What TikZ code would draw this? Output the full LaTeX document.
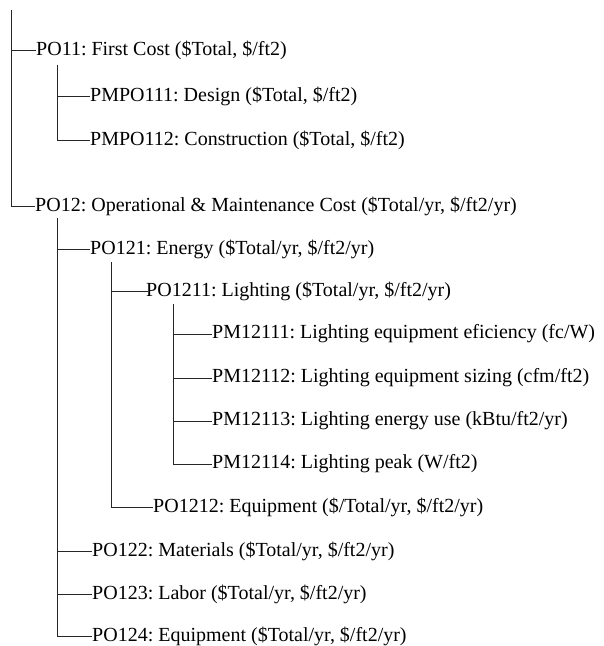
\documentclass[tikz,border=0pt]{standalone}
\usepackage{fontspec}
\setmainfont{Liberation Serif}
\begin{document}
\frenchspacing
\begin{tikzpicture}[x=1pt,y=-1pt,
  lbl/.style={anchor=west,inner sep=0pt,font=\fontsize{20}{24}\selectfont},
  conn/.style={draw=black!85,line width=1pt}]
\useasboundingbox (0,0) rectangle (604,646);
% nodes
\node[lbl] (po11) at (36,50) {PO11: First Cost (\$Total, \$/ft2)};
\node[lbl] (pmpo111) at (90,96) {PMPO111: Design (\$Total, \$/ft2)};
\node[lbl] (pmpo112) at (90,140) {PMPO112: Construction (\$Total, \$/ft2)};
\node[lbl] (po12) at (35,206) {PO12: Operational \& Maintenance Cost (\$Total/yr, \$/ft2/yr)};
\node[lbl] (po121) at (90,249) {PO121: Energy (\$Total/yr, \$/ft2/yr)};
\node[lbl] (po1211) at (146,291) {PO1211: Lighting (\$Total/yr, \$/ft2/yr)};
\node[lbl] (pm12111) at (212,334) {PM12111: Lighting equipment eficiency (fc/W)};
\node[lbl] (pm12112) at (212,378) {PM12112: Lighting equipment sizing (cfm/ft2)};
\node[lbl] (pm12113) at (212,421) {PM12113: Lighting energy use (kBtu/ft2/yr)};
\node[lbl] (pm12114) at (212,464) {PM12114: Lighting peak (W/ft2)};
\node[lbl] (po1212) at (153,507) {PO1212: Equipment (\$/Total/yr, \$/ft2/yr)};
\node[lbl] (po122) at (92,551) {PO122: Materials (\$Total/yr, \$/ft2/yr)};
\node[lbl] (po123) at (92,594) {PO123: Labor (\$Total/yr, \$/ft2/yr)};
\node[lbl] (po124) at (92,636) {PO124: Equipment (\$Total/yr, \$/ft2/yr)};
% trunk coordinates
\coordinate (root) at (11,10);
\coordinate (t11) at (57,65);
\coordinate (t12) at (57,218);
\coordinate (t121) at (111,262);
\coordinate (t1211) at (173,304);
% connectors
\draw[conn] (root) |- (po11.west);
\draw[conn] (root) |- (po12.west);
\draw[conn] (t11) |- (pmpo111.west);
\draw[conn] (t11) |- (pmpo112.west);
\draw[conn] (t12) |- (po121.west);
\draw[conn] (t12) |- (po122.west);
\draw[conn] (t12) |- (po123.west);
\draw[conn] (t12) |- (po124.west);
\draw[conn] (t121) |- ([xshift=2pt]po1211.west);
\draw[conn] (t121) |- (po1212.west);
\draw[conn] (t1211) |- (pm12111.west);
\draw[conn] (t1211) |- (pm12112.west);
\draw[conn] (t1211) |- (pm12113.west);
\draw[conn] (t1211) |- (pm12114.west);
\end{tikzpicture}
\end{document}
